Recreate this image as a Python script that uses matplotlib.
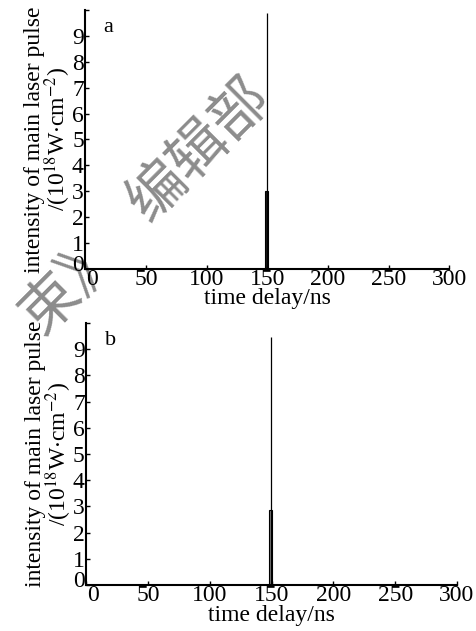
import matplotlib
matplotlib.use('Agg')
import matplotlib.pyplot as plt
from matplotlib.transforms import ScaledTranslation

plt.rcParams['font.family'] = ['Liberation Serif', 'DejaVu Serif']
plt.rcParams['mathtext.fontset'] = 'stix'

# panel a: main pulse and pre-pulse (time delay ns, intensity 1e18 W/cm2)
main_t_a = 150.0
main_peak_a = 9.9
pre_t_a = 149.5
pre_h_a = 3.0

# panel b
main_t_b = 149.5
main_peak_b = 9.45
pre_t_b = 149.5
pre_h_b = 2.85

xticks = [0, 50, 100, 150, 200, 250, 300]
yticks = [0, 1, 2, 3, 4, 5, 6, 7, 8, 9, 10]
ytick_labels = ['0', '1', '2', '3', '4', '5', '6', '7', '8', '9', '']
ylabel = 'intensity of main laser pulse\n/(10$^{18}$W$\\cdot$cm$^{-2}$)'

fig = plt.figure(figsize=(4.76, 6.31), dpi=100)
fig.patch.set_facecolor('white')

# watermark
wm = dict(color='#8c8c8c', rotation=45, ha='center', va='center',
          family=['Noto Sans CJK SC'], fontsize=42, zorder=-1)
fig.text(0.42, 0.762, '编辑部', **wm)
fig.text(0.15, 0.55, '束》', **wm)

ax_a = fig.add_axes([0.179, 0.574, 0.765, 0.41])
ax_b = fig.add_axes([0.181, 0.073, 0.779, 0.415])

panels = [(ax_a, main_t_a, main_peak_a, pre_t_a, pre_h_a, '0.1', 'a'),
          (ax_b, main_t_b, main_peak_b, pre_t_b, pre_h_b, '0.5', 'b')]

for ax, mt, mp, pt, ph, fc, lab in panels:
    ax.set_facecolor('none')
    ax.vlines(mt, 0, mp, color='black', lw=0.9)
    ax.bar([pt], [ph], width=2.5, color=fc, edgecolor='black', lw=0.8)
    ax.set_xlim(0, 300)
    ax.set_ylim(0, 10)
    ax.spines['top'].set_visible(False)
    ax.spines['right'].set_visible(False)
    ax.spines['left'].set_linewidth(1.5)
    ax.spines['bottom'].set_linewidth(1.5)
    ax.set_xticks(xticks)
    ax.set_yticks(yticks)
    ax.set_yticklabels(ytick_labels)
    ax.tick_params(direction='in', length=3, width=1, labelsize=17, pad=1)
    ax.tick_params(axis='x', pad=0)
    ax.set_xlabel('time delay/ns', fontsize=17, labelpad=-1)
    ax.set_ylabel(ylabel, fontsize=17, labelpad=-1, linespacing=0.9)
    ax.text(0.05, 0.97, lab, transform=ax.transAxes, fontsize=16,
            ha='left', va='top')
    # nudge the x "0" off the y "0", as in the original
    x0 = ax.get_xticklabels()[0]
    x0.set_transform(x0.get_transform() + ScaledTranslation(5 / 72, 0, fig.dpi_scale_trans))
    y0 = ax.get_yticklabels()[0]
    y0.set_transform(y0.get_transform() + ScaledTranslation(0, 4 / 72, fig.dpi_scale_trans))

fig.savefig('out.png', dpi=100)
